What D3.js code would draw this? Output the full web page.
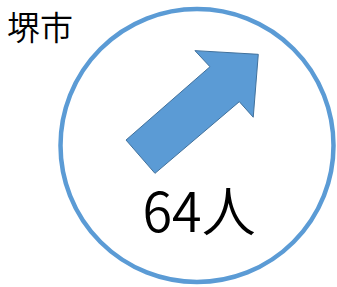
<!DOCTYPE html>
<html><head><meta charset="utf-8">
<script src="https://cdn.jsdelivr.net/npm/d3@7"></script>
<style>html,body{margin:0;padding:0;background:#fff;overflow:hidden}</style>
</head><body>
<svg id="c" width="337" height="287"></svg>
<script>
const titles = ["堺市"];
const values = [64];
const units = ["人"];
const trends = ["up"];

const W = 337, H = 287;
const svg = d3.select("#c");
const cx = 197, cy = 145.5, r = 136.5;
// unit-frame scales (fractions of radius -> pixels)
const sx = d3.scaleLinear().domain([-1, 1]).range([cx - r, cx + r]);
const sy = d3.scaleLinear().domain([-1, 1]).range([cy - r, cy + r]);

svg.append("text").attr("x", 7).attr("y", 40)
  .attr("font-family", "'Noto Sans CJK JP', sans-serif")
  .attr("font-weight", 350)
  .attr("font-size", 33).attr("fill", "#000")
  .text(titles[0]);

svg.append("circle").attr("cx", sx(0)).attr("cy", sy(0)).attr("r", r)
  .attr("fill", "#fff").attr("stroke", "#5B9BD5").attr("stroke-width", 4.5);

// arrow glyph shape in unit frame
const arrowShape = [[-0.520,-0.040],[-0.308,0.204],[0.310,-0.321],[0.412,-0.207],[0.449,-0.668],[-0.015,-0.695],[0.095,-0.577]];
const line = d3.line().x(d => sx(d[0])).y(d => sy(d[1])).curve(d3.curveLinearClosed);
svg.selectAll("path.arrow").data(trends.filter(t => t === "up")).join("path")
  .attr("class", "arrow")
  .attr("d", () => line(arrowShape))
  .attr("fill", "#5B9BD5").attr("stroke", "#41719C").attr("stroke-width", 1);

svg.append("text").attr("x", sx(0.015)).attr("y", 232)
  .attr("text-anchor", "middle")
  .attr("font-family", "'Noto Sans CJK JP', sans-serif")
  .attr("font-weight", 350)
  .attr("font-size", 54).attr("fill", "#000")
  .text(values[0] + units[0]);
</script>
</body></html>
